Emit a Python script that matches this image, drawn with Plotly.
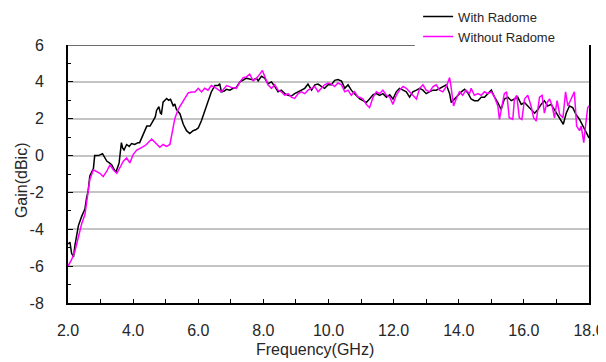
import plotly.graph_objects as go

# ---- data ----
with_f = [2.00, 2.06, 2.11, 2.17, 2.21, 2.27, 2.32, 2.42, 2.52, 2.57, 2.62, 2.67, 2.72, 2.78, 2.82,
          2.93, 3.06, 3.12, 3.19, 3.27, 3.34, 3.40, 3.47, 3.53, 3.57, 3.64, 3.68, 3.72, 3.80, 3.88,
          3.95, 4.05, 4.15, 4.20, 4.28, 4.36, 4.42, 4.52, 4.62, 4.68, 4.72, 4.79, 4.84, 4.87, 4.92,
          5.03, 5.09, 5.15, 5.23, 5.28, 5.33, 5.44, 5.54, 5.64, 5.74, 5.84, 5.92, 6.00, 6.10, 6.20,
          6.30, 6.40, 6.51, 6.61, 6.66, 6.71, 6.80, 6.87, 6.97, 7.07, 7.17, 7.28, 7.38, 7.48, 7.58,
          7.69, 7.79, 7.84, 7.94, 8.04, 8.14, 8.25, 8.35, 8.45, 8.55, 8.66, 8.76, 8.86, 8.96, 9.07,
          9.17, 9.27, 9.37, 9.48, 9.58, 9.68, 9.78, 9.88, 9.99, 10.09, 10.19, 10.29, 10.40, 10.50,
          10.60, 10.70, 10.80, 10.91, 10.96, 11.06, 11.16, 11.26, 11.37, 11.47, 11.57, 11.67, 11.78,
          11.88, 11.98, 12.08, 12.18, 12.29, 12.39, 12.49, 12.59, 12.70, 12.80, 12.90, 13.00, 13.10,
          13.21, 13.31, 13.41, 13.51, 13.62, 13.72, 13.77, 13.87, 13.97, 14.08, 14.18, 14.28, 14.38,
          14.48, 14.59, 14.69, 14.79, 14.89, 15.00, 15.10, 15.20, 15.30, 15.40, 15.51, 15.61, 15.71,
          15.81, 15.92, 16.02, 16.12, 16.22, 16.33, 16.43, 16.53, 16.63, 16.73, 16.84, 16.94, 17.04,
          17.14, 17.21, 17.30, 17.40, 17.50, 17.60, 17.71, 17.79, 17.86, 17.93, 18.00]
with_g = [-4.8, -4.7, -5.3, -5.5, -4.9, -4.3, -3.8, -3.3, -2.9, -2.3, -1.9, -1.1, -0.9, -0.7, 0.0,
          0.0, 0.1, -0.1, -0.3, -0.4, -0.5, -0.7, -0.9, -0.6, -0.4, 0.7, 0.4, 0.3, 0.6, 0.5,
          0.65, 0.6, 0.7, 0.7, 1.0, 1.35, 1.6, 1.6, 1.9, 2.1, 2.45, 2.65, 2.3, 2.26, 2.9,
          3.1, 3.0, 3.05, 2.7, 2.8, 2.5, 2.26, 1.7, 1.35, 1.2, 1.35, 1.4, 1.5, 1.9, 2.45,
          2.9, 3.45, 3.8, 3.8, 3.9, 3.45, 3.5, 3.6, 3.55, 3.65, 3.7, 4.0, 4.1, 4.2, 4.15,
          4.1, 4.2, 4.05, 4.3, 4.2, 3.9, 4.0, 3.75, 3.46, 3.55, 3.36, 3.27, 3.23, 3.36, 3.46,
          3.55, 3.65, 3.88, 3.55, 3.84, 3.88, 3.75, 3.65, 3.84, 3.84, 4.08, 4.13, 4.04, 3.65,
          3.84, 3.55, 3.36, 3.17, 3.07, 2.98, 2.88, 3.07, 3.3, 3.36, 3.27, 3.36, 3.17,
          3.3, 3.07, 3.46, 3.65, 3.55, 3.46, 3.17, 3.46, 3.55, 3.65, 3.55, 3.36, 3.46,
          3.55, 3.55, 3.65, 3.75, 3.84, 3.36, 2.88, 3.07, 3.27, 3.46, 3.6, 3.4, 3.07,
          2.98, 2.98, 3.17, 3.17, 3.36, 3.55, 3.17, 2.88, 2.5, 3.07, 3.17, 2.98, 3.07,
          3.17, 2.78, 2.88, 2.69, 2.5, 2.3, 2.5, 2.78, 2.98, 2.69, 2.78, 2.5, 2.2,
          1.87, 1.7, 2.3, 2.69, 2.6, 2.23, 1.96, 1.7, 1.5, 1.2, 0.95]

without_f = [2.00, 2.11, 2.21, 2.32, 2.42, 2.52, 2.62, 2.67, 2.78, 2.88, 2.98, 3.08, 3.19, 3.29,
             3.39, 3.50, 3.60, 3.70, 3.80, 3.90, 4.00, 4.11, 4.26, 4.41, 4.57, 4.65, 4.72, 4.82,
             4.92, 5.03, 5.13, 5.18, 5.28, 5.38, 5.49, 5.59, 5.69, 5.79, 5.90, 6.00, 6.10, 6.20,
             6.30, 6.40, 6.56, 6.71, 6.87, 7.02, 7.17, 7.28, 7.38, 7.48, 7.58, 7.69, 7.79, 7.89,
             7.97, 8.04, 8.14, 8.25, 8.35, 8.45, 8.55, 8.66, 8.76, 8.86, 8.96, 9.07, 9.17, 9.27,
             9.37, 9.48, 9.58, 9.68, 9.78, 9.88, 9.99, 10.09, 10.19, 10.29, 10.40, 10.50, 10.60,
             10.70, 10.80, 10.91, 10.96, 11.06, 11.16, 11.26, 11.37, 11.47, 11.57, 11.67, 11.78,
             11.88, 11.98, 12.08, 12.18, 12.29, 12.39, 12.49, 12.59, 12.70, 12.80, 12.90, 13.00,
             13.10, 13.21, 13.31, 13.41, 13.51, 13.62, 13.72, 13.77, 13.84, 13.92, 14.02, 14.12,
             14.22, 14.33, 14.38, 14.48, 14.59, 14.69, 14.79, 14.89, 15.00, 15.10, 15.20, 15.25,
             15.30, 15.40, 15.47, 15.55, 15.66, 15.71, 15.78, 15.86, 15.94, 16.02, 16.12, 16.22,
             16.30, 16.38, 16.48, 16.56, 16.63, 16.71, 16.79, 16.87, 16.94, 17.02, 17.10, 17.20,
             17.28, 17.35, 17.45, 17.55, 17.62, 17.71, 17.76, 17.84, 17.90, 17.96, 18.00]
without_g = [-6.0, -5.65, -5.2, -4.45, -3.7, -3.2, -2.06, -1.3, -0.77, -0.85, -0.96, -1.14, -0.85, -0.5,
             -0.77, -0.96, -0.6, -0.3, -0.13, -0.4, 0.05, 0.3, 0.43, 0.6, 0.9, 0.75, 0.6, 0.45,
             0.6, 0.5, 0.6, 1.07, 2.0, 2.5, 2.8, 3.1, 3.4, 3.45, 3.45, 3.65, 3.45, 3.65,
             3.55, 3.8, 3.65, 3.45, 3.8, 3.7, 3.65, 4.0, 4.23, 4.27, 4.42, 4.05, 4.2, 4.42,
             4.62, 4.3, 3.84, 3.65, 3.84, 3.55, 3.46, 3.27, 3.36, 3.17, 3.1, 3.36, 3.46, 3.36,
             3.55, 3.65, 3.75, 3.46, 3.65, 3.84, 3.94, 3.88, 3.75, 3.94, 3.84, 3.46, 3.55,
             3.27, 3.46, 3.17, 3.17, 3.07, 2.78, 2.6, 3.17, 3.46, 3.36, 3.55, 3.27,
             3.17, 2.78, 3.27, 3.55, 3.75, 3.65, 3.46, 3.27, 3.07, 3.65, 3.84, 3.55,
             3.46, 3.75, 3.84, 3.55, 3.46, 3.75, 4.23, 3.65, 2.69, 3.07, 3.46, 3.27,
             3.55, 3.36, 3.65, 3.27, 3.36, 3.27, 3.46, 3.36, 3.46, 3.17, 2.69, 1.96,
             2.5, 3.36, 3.46, 2.05, 1.96, 3.07, 3.27, 2.05, 1.96, 3.07, 3.27, 2.69,
             2.05, 1.87, 3.17, 3.27, 2.3, 2.88, 3.07, 2.69, 2.05, 2.98, 2.23, 2.05,
             3.46, 2.69, 3.07, 3.46, 1.6, 1.35, 1.6, 0.7, 1.7, 2.6, 2.7]

series_names = ["With Radome", "Without Radome"]
x_ticks = [2, 4, 6, 8, 10, 12, 14, 16, 18]
y_ticks = [6, 4, 2, 0, -2, -4, -6, -8]
x_title = "Frequency(GHz)"
y_title = "Gain(dBic)"

FONT = "Liberation Sans, Arial, sans-serif"
TXT = "#262626"

fig = go.Figure()
fig.add_trace(go.Scatter(x=with_f, y=with_g, mode="lines", name=series_names[0],
                         line=dict(color="#000000", width=1.5)))
fig.add_trace(go.Scatter(x=without_f, y=without_g, mode="lines", name=series_names[1],
                         line=dict(color="#ff00ff", width=1.5)))

# partial top border line (as in the reference)
fig.add_shape(type="line", xref="x", yref="y", x0=2, x1=12.65, y0=6, y1=6,
              line=dict(color="#6e6e6e", width=2), layer="below")

# axis titles
fig.add_annotation(text=x_title, xref="paper", yref="paper", x=0.474, y=-0.182,
                   xanchor="center", yanchor="middle", showarrow=False,
                   font=dict(family=FONT, size=16, color=TXT))
fig.add_annotation(text=y_title, xref="paper", yref="paper", x=-0.088, y=0.477,
                   xanchor="center", yanchor="middle", showarrow=False, textangle=-90,
                   font=dict(family=FONT, size=16, color=TXT))

# the page body has an 8 px default margin, so the figure is 8 px smaller
fig.update_layout(
    width=598, height=354,
    margin=dict(l=60, r=17, t=37, b=59, autoexpand=False),
    paper_bgcolor="white", plot_bgcolor="white",
    font=dict(family=FONT, size=16, color=TXT),
    showlegend=True,
    legend=dict(x=0.672, y=1.168, xanchor="left", yanchor="top",
                bgcolor="rgba(0,0,0,0)", font=dict(size=13, color=TXT),
                itemwidth=30, tracegroupgap=0),
    xaxis=dict(range=[2, 18], tickvals=x_ticks, ticktext=[f"{v:.1f}" for v in x_ticks],
               showgrid=False, zeroline=False, showline=True, linecolor="#000000", linewidth=2,
               ticks="inside", ticklen=4, tickcolor="#000000", tickwidth=1,
               minor=dict(dtick=1, ticks="inside", ticklen=4, tickcolor="#000000", showgrid=False),
               ticklabelstandoff=12),
    yaxis=dict(range=[-8, 6], tickvals=y_ticks, ticktext=[str(v) for v in y_ticks],
               showgrid=True, gridcolor="#c4c4c4", gridwidth=2, zeroline=False,
               showline=True, linecolor="#000000", linewidth=2, mirror=True,
               ticks="inside", ticklen=5, tickcolor="#000000", tickwidth=1,
               minor=dict(dtick=1, ticks="inside", ticklen=3, tickcolor="#000000", showgrid=False),
               ticklabelstandoff=19),
)

fig.write_html("out.html")
